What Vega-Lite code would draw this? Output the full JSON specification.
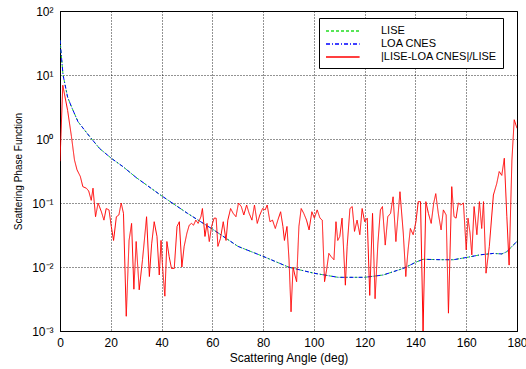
{
  "$schema": "https://vega.github.io/schema/vega-lite/v6.json",
  "width": 457,
  "height": 320,
  "autosize": "none",
  "padding": {"left": 60, "top": 11, "right": 9, "bottom": 38},
  "background": "white",
  "config": {
    "font": "Liberation Sans",
    "view": {"stroke": "black", "strokeWidth": 1},
    "axis": {
      "domainColor": "black", "domainWidth": 1,
      "grid": true, "gridColor": "black", "gridDash": [1, 2], "gridOpacity": 0.85, "gridWidth": 1,
      "ticks": false,
      "labelColor": "black", "labelFont": "Liberation Sans", "labelFontSize": 12,
      "titleColor": "black", "titleFont": "Liberation Sans", "titleFontWeight": "normal"
    },
    "legend": {
      "orient": "none", "legendX": 259, "legendY": 7,
      "direction": "vertical",
      "strokeColor": "black", "fillColor": "white",
      "padding": 6, "rowPadding": 1,
      "labelFont": "Liberation Sans", "labelFontSize": 11, "labelColor": "black", "labelLimit": 300,
      "symbolType": "M-1,0H4.6", "symbolSize": 144, "symbolStrokeWidth": 1.3,
      "labelOffset": 42
    }
  },
  "datasets": {
    "lise": [
      {"a": 0, "v": 35, "s": "LISE"}, {"a": 1.2, "v": 10, "s": "LISE"}, {"a": 3, "v": 4.5, "s": "LISE"},
      {"a": 4.5, "v": 3.2, "s": "LISE"}, {"a": 7.1, "v": 1.86, "s": "LISE"}, {"a": 11.7, "v": 1.09, "s": "LISE"},
      {"a": 15.6, "v": 0.71, "s": "LISE"}, {"a": 20.2, "v": 0.5, "s": "LISE"}, {"a": 24.8, "v": 0.37, "s": "LISE"},
      {"a": 30, "v": 0.25, "s": "LISE"}, {"a": 39.6, "v": 0.133, "s": "LISE"}, {"a": 50.2, "v": 0.069, "s": "LISE"},
      {"a": 60.5, "v": 0.038, "s": "LISE"}, {"a": 70.1, "v": 0.021, "s": "LISE"}, {"a": 80.3, "v": 0.0145, "s": "LISE"},
      {"a": 90.2, "v": 0.0099, "s": "LISE"}, {"a": 100, "v": 0.008, "s": "LISE"}, {"a": 109.5, "v": 0.0069, "s": "LISE"},
      {"a": 120, "v": 0.0069, "s": "LISE"}, {"a": 127.3, "v": 0.0075, "s": "LISE"}, {"a": 135.2, "v": 0.0095, "s": "LISE"},
      {"a": 140.4, "v": 0.012, "s": "LISE"}, {"a": 143, "v": 0.0132, "s": "LISE"}, {"a": 150, "v": 0.013, "s": "LISE"},
      {"a": 155, "v": 0.013, "s": "LISE"}, {"a": 160.2, "v": 0.0141, "s": "LISE"}, {"a": 165.5, "v": 0.0155, "s": "LISE"},
      {"a": 170.7, "v": 0.0163, "s": "LISE"}, {"a": 174, "v": 0.016, "s": "LISE"}, {"a": 176, "v": 0.0173, "s": "LISE"},
      {"a": 178, "v": 0.021, "s": "LISE"}, {"a": 180, "v": 0.025, "s": "LISE"}
    ],
    "loa": [
      {"a": 0, "v": 35, "s": "LOA CNES"}, {"a": 1.2, "v": 10, "s": "LOA CNES"}, {"a": 3, "v": 4.5, "s": "LOA CNES"},
      {"a": 4.5, "v": 3.2, "s": "LOA CNES"}, {"a": 7.1, "v": 1.86, "s": "LOA CNES"}, {"a": 11.7, "v": 1.09, "s": "LOA CNES"},
      {"a": 15.6, "v": 0.71, "s": "LOA CNES"}, {"a": 20.2, "v": 0.5, "s": "LOA CNES"}, {"a": 24.8, "v": 0.37, "s": "LOA CNES"},
      {"a": 30, "v": 0.25, "s": "LOA CNES"}, {"a": 39.6, "v": 0.133, "s": "LOA CNES"}, {"a": 50.2, "v": 0.069, "s": "LOA CNES"},
      {"a": 60.5, "v": 0.038, "s": "LOA CNES"}, {"a": 70.1, "v": 0.021, "s": "LOA CNES"}, {"a": 80.3, "v": 0.0145, "s": "LOA CNES"},
      {"a": 90.2, "v": 0.0099, "s": "LOA CNES"}, {"a": 100, "v": 0.008, "s": "LOA CNES"}, {"a": 109.5, "v": 0.0069, "s": "LOA CNES"},
      {"a": 120, "v": 0.0069, "s": "LOA CNES"}, {"a": 127.3, "v": 0.0075, "s": "LOA CNES"}, {"a": 135.2, "v": 0.0095, "s": "LOA CNES"},
      {"a": 140.4, "v": 0.012, "s": "LOA CNES"}, {"a": 143, "v": 0.0132, "s": "LOA CNES"}, {"a": 150, "v": 0.013, "s": "LOA CNES"},
      {"a": 155, "v": 0.013, "s": "LOA CNES"}, {"a": 160.2, "v": 0.0141, "s": "LOA CNES"}, {"a": 165.5, "v": 0.0155, "s": "LOA CNES"},
      {"a": 170.7, "v": 0.0163, "s": "LOA CNES"}, {"a": 174, "v": 0.016, "s": "LOA CNES"}, {"a": 176, "v": 0.0173, "s": "LOA CNES"},
      {"a": 178, "v": 0.021, "s": "LOA CNES"}, {"a": 180, "v": 0.025, "s": "LOA CNES"}
    ],
    "diff": [
      {"a": 0, "v": 0.45}, {"a": 1.1, "v": 6.9}, {"a": 3, "v": 2.8}, {"a": 4.5, "v": 1.1}, {"a": 5.7, "v": 0.47},
      {"a": 6.7, "v": 0.33}, {"a": 8, "v": 0.26}, {"a": 9, "v": 0.18}, {"a": 10.4, "v": 0.17}, {"a": 11.3, "v": 0.154},
      {"a": 12.3, "v": 0.11}, {"a": 13, "v": 0.17}, {"a": 14, "v": 0.061}, {"a": 15, "v": 0.1}, {"a": 16.3, "v": 0.073},
      {"a": 17.3, "v": 0.054}, {"a": 18.2, "v": 0.082}, {"a": 19.3, "v": 0.078}, {"a": 20.2, "v": 0.043}, {"a": 21.1, "v": 0.026},
      {"a": 22.2, "v": 0.061}, {"a": 23.2, "v": 0.065}, {"a": 24.1, "v": 0.1}, {"a": 25, "v": 0.069}, {"a": 26.1, "v": 0.0017},
      {"a": 27.2, "v": 0.026}, {"a": 28.2, "v": 0.048}, {"a": 29.1, "v": 0.0045}, {"a": 30, "v": 0.025}, {"a": 31.2, "v": 0.0044},
      {"a": 32.5, "v": 0.013}, {"a": 34.1, "v": 0.061}, {"a": 35.2, "v": 0.0071}, {"a": 36.1, "v": 0.023}, {"a": 37.1, "v": 0.051},
      {"a": 38.2, "v": 0.03}, {"a": 39.1, "v": 0.0075}, {"a": 39.8, "v": 0.026}, {"a": 40.4, "v": 0.01}, {"a": 41.3, "v": 0.0035},
      {"a": 42.1, "v": 0.025}, {"a": 43, "v": 0.0145}, {"a": 43.9, "v": 0.0095}, {"a": 45, "v": 0.0095}, {"a": 46.1, "v": 0.043},
      {"a": 47, "v": 0.051}, {"a": 48, "v": 0.01}, {"a": 48.9, "v": 0.021}, {"a": 50, "v": 0.034}, {"a": 50.9, "v": 0.045},
      {"a": 51.8, "v": 0.048}, {"a": 52.6, "v": 0.045}, {"a": 53.5, "v": 0.054}, {"a": 54.4, "v": 0.048}, {"a": 55.5, "v": 0.061},
      {"a": 56.1, "v": 0.082}, {"a": 57.1, "v": 0.03}, {"a": 57.9, "v": 0.048}, {"a": 58.8, "v": 0.025}, {"a": 59.7, "v": 0.043},
      {"a": 60.7, "v": 0.058}, {"a": 61.5, "v": 0.058}, {"a": 62.2, "v": 0.021}, {"a": 63.2, "v": 0.028}, {"a": 64.3, "v": 0.051},
      {"a": 65.4, "v": 0.026}, {"a": 66.1, "v": 0.054}, {"a": 67.2, "v": 0.082}, {"a": 68.2, "v": 0.069}, {"a": 69.3, "v": 0.061},
      {"a": 70.3, "v": 0.1}, {"a": 71.4, "v": 0.088}, {"a": 72.4, "v": 0.065}, {"a": 73.5, "v": 0.093}, {"a": 74.5, "v": 0.069},
      {"a": 75.6, "v": 0.054}, {"a": 76.6, "v": 0.093}, {"a": 77.7, "v": 0.048}, {"a": 78.7, "v": 0.065}, {"a": 79.8, "v": 0.082},
      {"a": 80.8, "v": 0.078}, {"a": 81.6, "v": 0.093}, {"a": 82.7, "v": 0.051}, {"a": 83.7, "v": 0.054}, {"a": 84.8, "v": 0.04},
      {"a": 85.8, "v": 0.054}, {"a": 86.9, "v": 0.073}, {"a": 87.8, "v": 0.043}, {"a": 88.4, "v": 0.026}, {"a": 89.4, "v": 0.043},
      {"a": 90.2, "v": 0.013}, {"a": 91, "v": 0.002}, {"a": 91.8, "v": 0.01}, {"a": 92.5, "v": 0.0075}, {"a": 93.2, "v": 0.0059},
      {"a": 94.1, "v": 0.043}, {"a": 95, "v": 0.082}, {"a": 96, "v": 0.069}, {"a": 97.1, "v": 0.054}, {"a": 98.1, "v": 0.038},
      {"a": 99.2, "v": 0.073}, {"a": 100.2, "v": 0.058}, {"a": 101.3, "v": 0.078}, {"a": 102.4, "v": 0.058}, {"a": 103.3, "v": 0.054},
      {"a": 104.2, "v": 0.0059}, {"a": 105, "v": 0.009}, {"a": 105.9, "v": 0.0163}, {"a": 106.8, "v": 0.0145}, {"a": 107.9, "v": 0.013},
      {"a": 108.7, "v": 0.051}, {"a": 109.4, "v": 0.026}, {"a": 110.2, "v": 0.03}, {"a": 111.1, "v": 0.058}, {"a": 112.4, "v": 0.0052},
      {"a": 113.1, "v": 0.021}, {"a": 114.2, "v": 0.082}, {"a": 115.1, "v": 0.088}, {"a": 116, "v": 0.036}, {"a": 117, "v": 0.054},
      {"a": 118.1, "v": 0.032}, {"a": 119, "v": 0.082}, {"a": 120, "v": 0.051}, {"a": 121, "v": 0.058}, {"a": 122, "v": 0.0036},
      {"a": 123.1, "v": 0.069}, {"a": 124.1, "v": 0.0032}, {"a": 125.2, "v": 0.023}, {"a": 126.2, "v": 0.078}, {"a": 127, "v": 0.088},
      {"a": 128.1, "v": 0.022}, {"a": 129.1, "v": 0.061}, {"a": 130.2, "v": 0.069}, {"a": 131.2, "v": 0.125}, {"a": 132.3, "v": 0.025},
      {"a": 133.9, "v": 0.15}, {"a": 135.2, "v": 0.034}, {"a": 136.2, "v": 0.0071}, {"a": 137.1, "v": 0.0185}, {"a": 138, "v": 0.04},
      {"a": 139.1, "v": 0.032}, {"a": 140.2, "v": 0.051}, {"a": 141.1, "v": 0.105}, {"a": 142, "v": 0.105}, {"a": 143, "v": 0.001},
      {"a": 144.1, "v": 0.105}, {"a": 145.1, "v": 0.069}, {"a": 146.2, "v": 0.048}, {"a": 147.2, "v": 0.1}, {"a": 148, "v": 0.14},
      {"a": 149, "v": 0.069}, {"a": 150.1, "v": 0.038}, {"a": 151, "v": 0.078}, {"a": 152.1, "v": 0.065}, {"a": 153, "v": 0.0019},
      {"a": 154.3, "v": 0.18}, {"a": 155.2, "v": 0.061}, {"a": 156, "v": 0.058}, {"a": 156.9, "v": 0.1}, {"a": 157.9, "v": 0.093},
      {"a": 158.9, "v": 0.1}, {"a": 160, "v": 0.0185}, {"a": 160.7, "v": 0.058}, {"a": 161.5, "v": 0.034}, {"a": 162.2, "v": 0.0155},
      {"a": 163.1, "v": 0.088}, {"a": 164.2, "v": 0.032}, {"a": 165.2, "v": 0.105}, {"a": 166.1, "v": 0.04}, {"a": 166.8, "v": 0.105},
      {"a": 167.8, "v": 0.008}, {"a": 169.1, "v": 0.021}, {"a": 170.7, "v": 0.133}, {"a": 172, "v": 0.2}, {"a": 173, "v": 0.31},
      {"a": 174, "v": 0.27}, {"a": 175, "v": 0.5}, {"a": 176, "v": 0.061}, {"a": 176.9, "v": 0.0107}, {"a": 178, "v": 0.47},
      {"a": 178.9, "v": 2.0}, {"a": 180, "v": 1.47}
    ]
  },
  "encoding": {
    "x": {
      "field": "a", "type": "quantitative",
      "scale": {"domain": [0, 180], "nice": false, "zero": false},
      "axis": {"values": [0, 20, 40, 60, 80, 100, 120, 140, 160, 180], "labelPadding": 6, "title": "Scattering Angle (deg)", "titleFontSize": 12, "titlePadding": 4, "labelFlush": false}
    },
    "y": {
      "field": "v", "type": "quantitative",
      "scale": {"type": "log", "domain": [0.001, 100], "nice": false},
      "axis": {
        "values": [0.001, 0.01, 0.1, 1, 10, 100],
        "labelExpr": "datum.value >= 50 ? '10²' : datum.value >= 5 ? '10¹' : datum.value >= 0.5 ? '10⁰' : datum.value >= 0.05 ? '10⁻¹' : datum.value >= 0.005 ? '10⁻²' : '10⁻³'",
        "labelPadding": 7, "labelFlush": false,
        "title": "Scattering Phase Function", "titleFontSize": 10, "titlePadding": 8
      }
    },
    "color": {
      "field": "s", "type": "nominal",
      "scale": {"domain": ["LISE", "LOA CNES", "|LISE-LOA CNES|/LISE"], "range": ["#22dd22", "#0000ff", "#ff0000"]},
      "legend": {"title": null}
    },
    "strokeDash": {
      "field": "s", "type": "nominal",
      "scale": {"domain": ["LISE", "LOA CNES", "|LISE-LOA CNES|/LISE"], "range": [[3, 2], [4, 2, 1, 2], [1, 0]]},
      "legend": {"title": null}
    }
  },
  "layer": [
    {"data": {"name": "lise"}, "mark": {"type": "line", "strokeWidth": 1, "clip": true}},
    {"data": {"name": "loa"}, "mark": {"type": "line", "strokeWidth": 1, "clip": true}},
    {"data": {"name": "diff"}, "mark": {"type": "line", "strokeWidth": 1, "clip": true},
     "encoding": {"color": {"datum": "|LISE-LOA CNES|/LISE"}, "strokeDash": {"datum": "|LISE-LOA CNES|/LISE"}}}
  ]
}
